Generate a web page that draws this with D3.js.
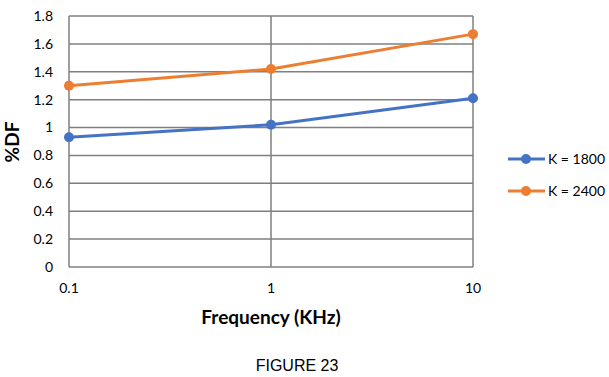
<!DOCTYPE html>
<html>
<head>
<meta charset="utf-8">
<script src="https://cdn.jsdelivr.net/npm/d3@7"></script>
<style>
  body { margin: 0; background: #fff; }
  svg { display: block; }
  text { font-family: Lato, "Open Sans", sans-serif; fill: #000; }
</style>
</head>
<body>
<svg id="chart" width="609" height="377"></svg>
<script>
const frequencies = [0.1, 1, 10];
const k1800 = [0.93, 1.02, 1.21];
const k2400 = [1.30, 1.42, 1.67];
const yTicks = [0, 0.2, 0.4, 0.6, 0.8, 1, 1.2, 1.4, 1.6, 1.8];
const seriesNames = ['K = 1800', 'K = 2400'];
const seriesColors = ['#4472c4', '#ed7d31'];

const svg = d3.select('#chart');
const plot = { left: 69, right: 473, top: 16, bottom: 267 };

const x = d3.scaleLog().domain([0.1, 10]).range([plot.left, plot.right]);
const y = d3.scaleLinear().domain([0, 1.8]).range([plot.bottom, plot.top]);

const grid = '#7f7f7f';

// horizontal gridlines
svg.append('g')
  .selectAll('line')
  .data(yTicks)
  .join('line')
  .attr('x1', plot.left).attr('x2', plot.right)
  .attr('y1', d => y(d)).attr('y2', d => y(d))
  .attr('stroke', grid).attr('stroke-width', 1.5);

// vertical gridlines
svg.append('g')
  .selectAll('line')
  .data(frequencies)
  .join('line')
  .attr('x1', d => x(d)).attr('x2', d => x(d))
  .attr('y1', plot.top).attr('y2', plot.bottom)
  .attr('stroke', grid).attr('stroke-width', 1.5);

// y tick labels
svg.append('g')
  .selectAll('text')
  .data(yTicks)
  .join('text')
  .attr('x', 53)
  .attr('y', d => y(d))
  .attr('dy', '0.35em')
  .attr('text-anchor', 'end')
  .attr('font-size', 14)
  .text(d => d);

// x tick labels
svg.append('g')
  .selectAll('text')
  .data(frequencies)
  .join('text')
  .attr('x', d => x(d))
  .attr('y', 293)
  .attr('text-anchor', 'middle')
  .attr('font-size', 14)
  .text(d => d);

// axis titles
svg.append('text')
  .attr('x', 271).attr('y', 324)
  .attr('text-anchor', 'middle')
  .attr('font-size', 19).attr('font-weight', 700)
  .text('Frequency (KHz)');

svg.append('text')
  .attr('transform', 'translate(19,142) rotate(-90)')
  .attr('text-anchor', 'middle')
  .attr('font-size', 19).attr('font-weight', 700)
  .text('%DF');

// series
const series = [k1800, k2400];
const line = d3.line().x((d, i) => x(frequencies[i])).y(d => y(d));

series.forEach((vals, s) => {
  const g = svg.append('g');
  g.append('path')
    .attr('d', line(vals))
    .attr('fill', 'none')
    .attr('stroke', seriesColors[s])
    .attr('stroke-width', 3);
  g.selectAll('circle')
    .data(vals)
    .join('circle')
    .attr('cx', (d, i) => x(frequencies[i]))
    .attr('cy', d => y(d))
    .attr('r', 5)
    .attr('fill', seriesColors[s]);
});

// legend
const legend = svg.append('g');
seriesNames.forEach((name, s) => {
  const ly = 159 + s * 32;
  legend.append('line')
    .attr('x1', 508).attr('x2', 545)
    .attr('y1', ly).attr('y2', ly)
    .attr('stroke', seriesColors[s]).attr('stroke-width', 3);
  legend.append('circle')
    .attr('cx', 526).attr('cy', ly).attr('r', 5)
    .attr('fill', seriesColors[s]);
  legend.append('text')
    .attr('x', 548).attr('y', ly)
    .attr('dy', '0.35em')
    .attr('font-size', 14)
    .text(name);
});

// caption
svg.append('text')
  .attr('x', 297).attr('y', 371)
  .attr('text-anchor', 'middle')
  .style('font-family', '"Liberation Sans", Arial, sans-serif')
  .attr('font-size', 16)
  .text('FIGURE 23');
</script>
</body>
</html>
